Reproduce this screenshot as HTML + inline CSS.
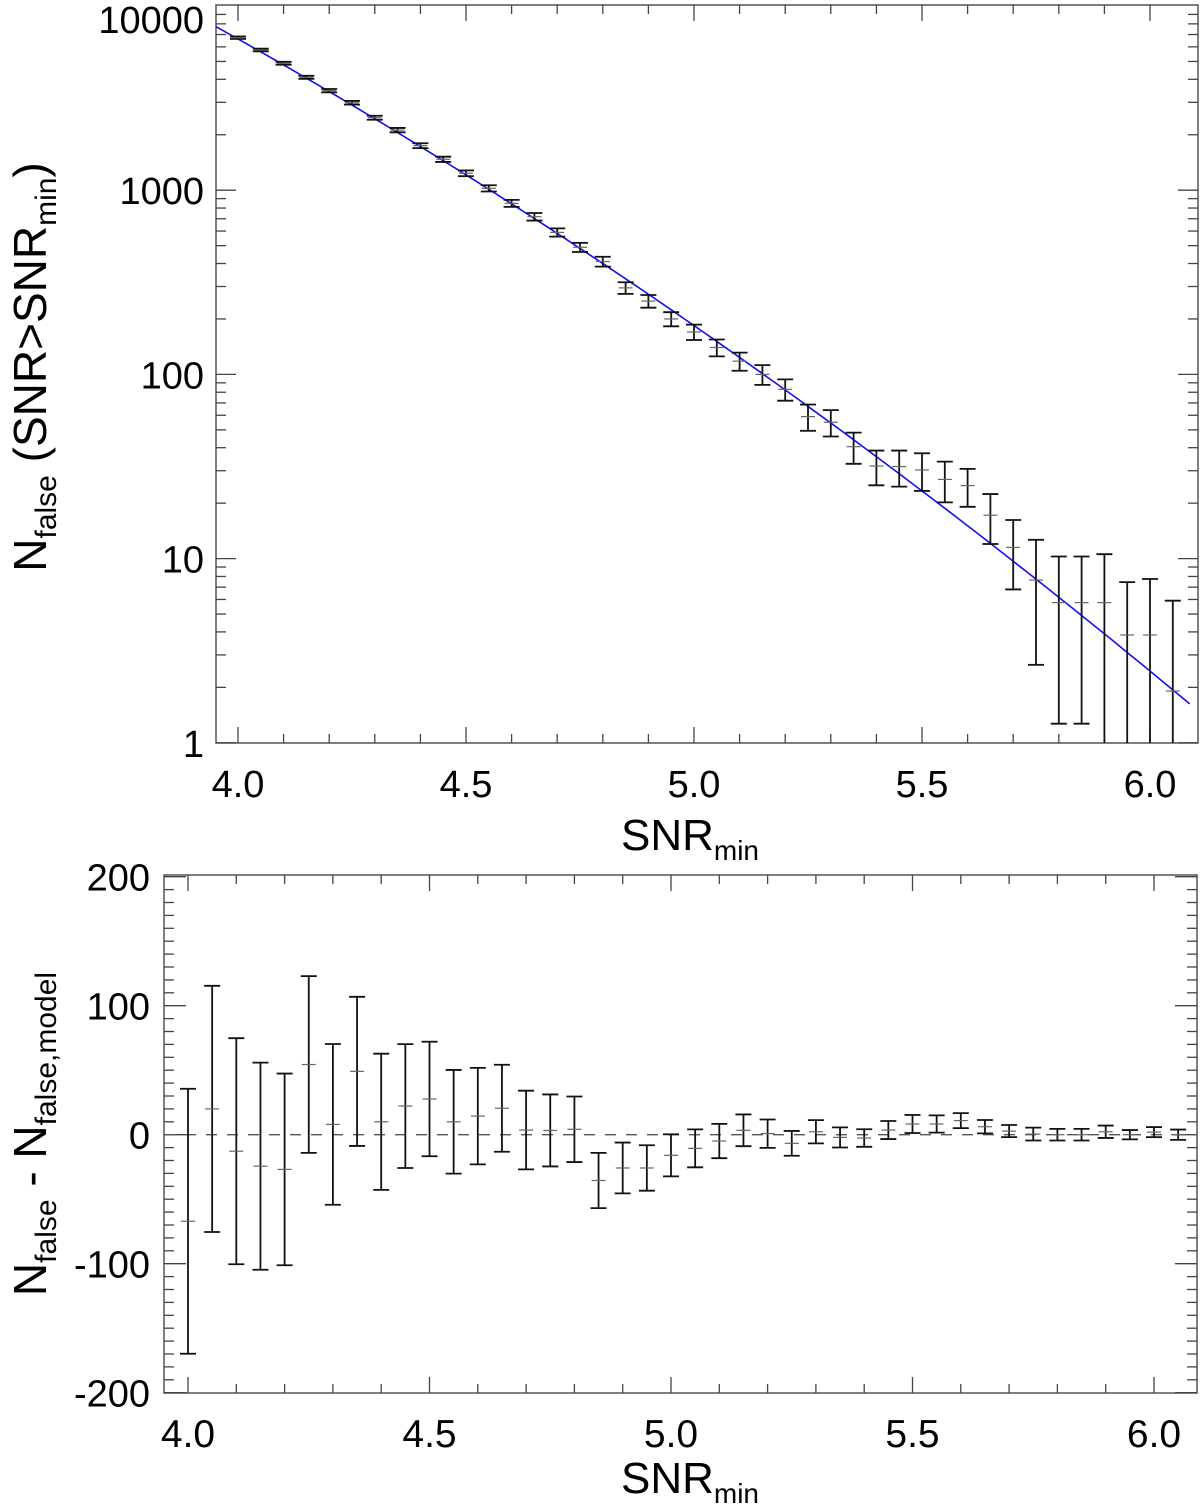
<!DOCTYPE html>
<html><head><meta charset="utf-8"><style>
html,body{margin:0;padding:0;background:#fff;}
svg{display:block;font-family:"Liberation Sans",sans-serif;}
</style></head><body>
<svg id="chart" width="1200" height="1505" viewBox="0 0 1200 1505" xmlns="http://www.w3.org/2000/svg">
<g id="topPanel"></g>
<g id="botPanel"></g>
</svg>
<script>
const snr = [4.0,4.05,4.1,4.15,4.2,4.25,4.3,4.35,4.4,4.45,4.5,4.55,4.6,4.65,4.7,4.75,4.8,4.85,4.9,4.95,5.0,5.05,5.1,5.15,5.2,5.25,5.3,5.35,5.4,5.45,5.5,5.55,5.6,5.65,5.7,5.75,5.8,5.85,5.9,5.95,6.0,6.05];
const nFalse = [6730,5770,4890,4100,3470,2985,2475,2120,1745,1472,1236,1024,849,718,590,490,410,295,250,200,170,140,118,100,83,59,55,40.5,31.8,31.6,30.3,26.9,24.9,17.2,11.5,7.65,5.77,5.77,5.77,3.85,3.85,1.91];
const errs = [102.7,95.4,87.6,80.3,74.3,68.5,62.3,57.8,52.8,48,44.4,40.2,37.4,33.7,30.5,27.9,25.4,21.4,19.7,17.6,16.3,14.7,13.3,12.3,11,9.6,9,7.8,6.8,7,7,6.7,5.8,5.2,4.7,5,4.5,4.5,4.8,3.6,3.9,4];
const resid = [-67.1,20,-12.8,-24.4,-26.9,54.4,8,49.1,10,22.2,27.7,10,14.4,20.5,3.6,3.3,4.2,-35.5,-25.8,-25.8,-16,-10.6,-4.9,3.4,0.8,-6.7,2.3,-2.1,-2.6,3.6,8.3,8.3,10.9,6.2,2.8,0.5,0,0,2.3,0,2,0];
const modelPivot = [4.31];
const modelCoeffs = [3.373,-1.495,-0.16]; // log10 N = c0 + c1*d + c2*d^2, d = SNR - pivot
const xTicks = [4.0,4.5,5.0,5.5,6.0];
const xTickLabels = ["4.0","4.5","5.0","5.5","6.0"];
const yTopTicks = [1,10,100,1000,10000];
const yTopLabels = ["1","10","100","1000","10000"];
const yBotTicks = [-200,-100,0,100,200];
const yBotLabels = ["-200","-100","0","100","200"];

const NS="http://www.w3.org/2000/svg";
function mk(parent,tag,attrs){const e=document.createElementNS(NS,tag);for(const k in attrs)e.setAttribute(k,attrs[k]);parent.appendChild(e);return e;}
function spans(t,parts){parts.forEach(p=>{const s=mk(t,'tspan',p.a||{});s.textContent=p.s;});}

// ---------- TOP PANEL ----------
const T={l:216,r:1198,t:5,b:743};
const xT=v=>238+(v-4.0)*456;
const yT=v=>6+(4-Math.log10(v))*184.2;
const topG=document.getElementById('topPanel');
const fr=mk(topG,'rect',{x:T.l,y:T.t,width:T.r-T.l,height:T.b-T.t,fill:'none',stroke:'#555','stroke-width':1.5});


for(let k=40;k<=60;k++){const v=k/10;const x=xT(v);if(x<T.l||x>T.r)continue;const major=(k%5===0);const L=major?16:9;
 mk(topG,'line',{x1:x,y1:T.b,x2:x,y2:T.b-L,stroke:'#444','stroke-width':1.3});
 mk(topG,'line',{x1:x,y1:T.t,x2:x,y2:T.t+L,stroke:'#444','stroke-width':1.3});}
for(let d=0;d<4;d++){for(let m=1;m<=9;m++){const v=m*Math.pow(10,d);const y=yT(v);if(y<T.t||y>T.b)continue;const L=(m===1)?20:10;
 mk(topG,'line',{x1:T.l,y1:y,x2:T.l+L,y2:y,stroke:'#444','stroke-width':1.3});
 mk(topG,'line',{x1:T.r,y1:y,x2:T.r-L,y2:y,stroke:'#444','stroke-width':1.3});}}
xTicks.forEach((v,i)=>{const t=mk(topG,'text',{x:xT(v),y:797,'font-size':38,'text-anchor':'middle',fill:'#000'});t.textContent=xTickLabels[i];
 
 });
yTopTicks.forEach((v,i)=>{const yy=Math.max(yT(v)+14,33);const t=mk(topG,'text',{x:204,y:yy,'font-size':38,'text-anchor':'end',fill:'#000'});t.textContent=yTopLabels[i];
 
 });
{const f=x=>{const d=x-modelPivot[0];return Math.pow(10,modelCoeffs[0]+modelCoeffs[1]*d+modelCoeffs[2]*d*d);};
 const pts=[];for(let i=0;i<=100;i++){const x=3.951+(6.087-3.951)*i/100;pts.push(xT(x).toFixed(1)+','+yT(f(x)).toFixed(1));}
 const ln=mk(topG,'polyline',{points:pts.join(' '),fill:'none',stroke:'#1010ee','stroke-width':1.6});
 
 }
const clipT=mk(topG,'clipPath',{id:'ct'});mk(clipT,'rect',{x:T.l,y:T.t,width:T.r-T.l,height:T.b-T.t});
const gT=mk(topG,'g',{'clip-path':'url(#ct)'});
snr.forEach((s,i)=>{const x=xT(s);const n=nFalse[i];const e=errs[i];
 const g=mk(gT,'g',{});
 
 
 const yc=yT(n);const yu=yT(n+e);const lo=n-e;const yl=lo>0?yT(lo):T.b+20;
 mk(g,'line',{x1:x,y1:yu,x2:x,y2:yl,stroke:'#111','stroke-width':1.8});
 mk(g,'line',{x1:x-8,y1:yu,x2:x+8,y2:yu,stroke:'#111','stroke-width':1.8});
 if(lo>0)mk(g,'line',{x1:x-8,y1:yl,x2:x+8,y2:yl,stroke:'#111','stroke-width':1.8});
 mk(g,'line',{x1:x-7,y1:yc,x2:x+7,y2:yc,stroke:'#666','stroke-width':1.2});});
{const t=mk(topG,'text',{x:690,y:850,'font-size':44,'text-anchor':'middle',fill:'#000'});
 spans(t,[{s:'SNR'},{s:'min',a:{'font-size':28,dy:10}}]);
 
 }
{const t=mk(topG,'text',{x:0,y:0,'font-size':46,'text-anchor':'middle',fill:'#000',transform:'translate(46,367) rotate(-90)'});
 spans(t,[{s:'N'},{s:'false',a:{'font-size':30,dy:10}},{s:' (SNR>SNR',a:{dy:-10}},{s:'min',a:{'font-size':30,dy:10}},{s:')',a:{dy:-10}}]);
 
 }

// ---------- BOTTOM PANEL ----------
const B={l:164,r:1197,t:875,b:1393};
const xB=v=>188+(v-4.0)*483;
const yB=v=>1134.7-v*1.29;
const botG=document.getElementById('botPanel');
const fb=mk(botG,'rect',{x:B.l,y:B.t,width:B.r-B.l,height:B.b-B.t,fill:'none',stroke:'#555','stroke-width':1.5});


for(let k=40;k<=60;k++){const v=k/10;const x=xB(v);const major=(k%5===0);const L=major?16:9;
 mk(botG,'line',{x1:x,y1:B.b,x2:x,y2:B.b-L,stroke:'#444','stroke-width':1.3});
 mk(botG,'line',{x1:x,y1:B.t,x2:x,y2:B.t+L,stroke:'#444','stroke-width':1.3});}
for(let v=-200;v<=200;v+=10){const y=yB(v);if(y<B.t-1||y>B.b+1)continue;const L=(v%100===0)?22:10;
 mk(botG,'line',{x1:B.l,y1:y,x2:B.l+L,y2:y,stroke:'#444','stroke-width':1.3});
 mk(botG,'line',{x1:B.r,y1:y,x2:B.r-L,y2:y,stroke:'#444','stroke-width':1.3});}
xTicks.forEach((v,i)=>{const t=mk(botG,'text',{x:xB(v),y:1447,'font-size':39,'text-anchor':'middle',fill:'#000'});t.textContent=xTickLabels[i];
 
 });
yBotTicks.forEach((v,i)=>{const t=mk(botG,'text',{x:150,y:yB(v)+14,'font-size':38,'text-anchor':'end',fill:'#000'});t.textContent=yBotLabels[i];
 
 });
{const z=mk(botG,'line',{x1:B.l,y1:yB(0),x2:B.r,y2:yB(0),stroke:'#555','stroke-width':1.3,'stroke-dasharray':'11 10'});
 
 }
snr.forEach((s,i)=>{const x=xB(s);const r=resid[i];const e=errs[i];
 const g=mk(botG,'g',{});
 
 
 const yc=yB(r),yu=yB(r+e),yl=yB(r-e);
 mk(g,'line',{x1:x,y1:yu,x2:x,y2:yl,stroke:'#111','stroke-width':1.8});
 mk(g,'line',{x1:x-8,y1:yu,x2:x+8,y2:yu,stroke:'#111','stroke-width':1.8});
 mk(g,'line',{x1:x-8,y1:yl,x2:x+8,y2:yl,stroke:'#111','stroke-width':1.8});
 mk(g,'line',{x1:x-7,y1:yc,x2:x+7,y2:yc,stroke:'#666','stroke-width':1.2});});
{const t=mk(botG,'text',{x:690,y:1493,'font-size':44,'text-anchor':'middle',fill:'#000'});
 spans(t,[{s:'SNR'},{s:'min',a:{'font-size':28,dy:10}}]);
 
 }
{const t=mk(botG,'text',{x:0,y:0,'font-size':46,'text-anchor':'middle',fill:'#000',transform:'translate(46,1134) rotate(-90)'});
 spans(t,[{s:'N'},{s:'false',a:{'font-size':30,dy:10}},{s:' - N',a:{dy:-10}},{s:'false,model',a:{'font-size':30,dy:10}}]);
 
 }
</script>
</body></html>
